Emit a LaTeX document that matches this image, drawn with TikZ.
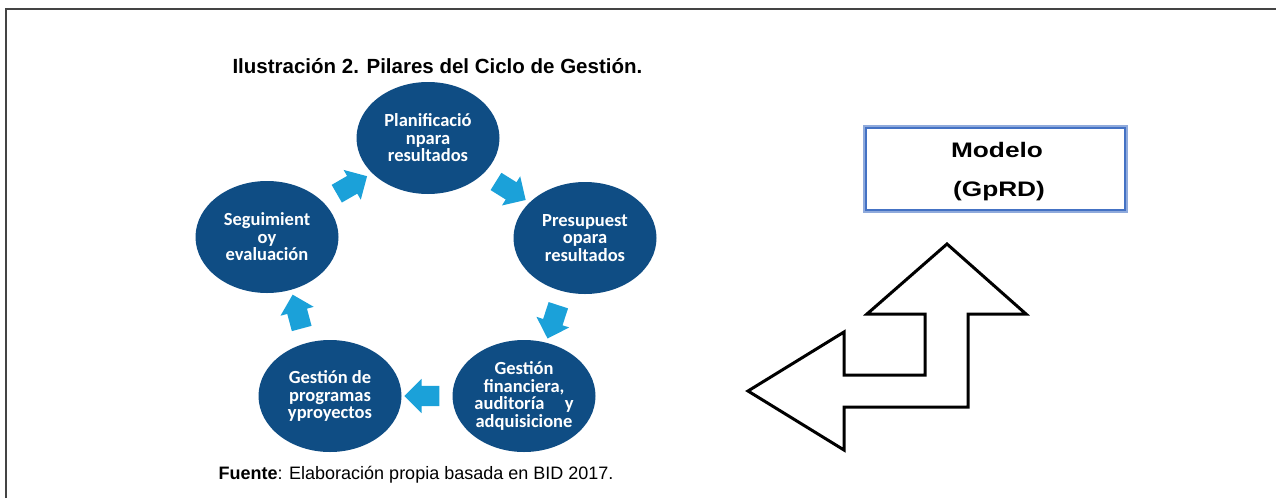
\documentclass[tikz,border=0pt]{standalone}
\usepackage{fontspec}
\usepackage{graphicx}
\setmainfont{Liberation Sans}
\newfontfamily\calfont{Carlito}
\usetikzlibrary{shapes.geometric,shapes.arrows,calc}
\definecolor{circblue}{HTML}{0F4D84}
\definecolor{arrblue}{HTML}{1BA1D9}
\definecolor{boxouter}{HTML}{8FAADC}
\definecolor{boxinner}{HTML}{4472C4}
\definecolor{framegray}{HTML}{444444}
\begin{document}
\begin{tikzpicture}[x=1pt,y=-1pt,
  pillar/.style={ellipse, fill=circblue, minimum width=143pt, minimum height=112pt,
    inner sep=0pt, text=white, align=center,
    font=\calfont\bfseries\fontsize{18.5}{17.5}\selectfont},
  blockarrow/.style={single arrow, fill=arrblue, draw=none, inner xsep=0pt,
    inner ysep=10pt, single arrow head extend=7pt, single arrow head indent=0pt,
    minimum height=35pt},
  boxtext/.style={font=\bfseries\fontsize{21}{24}\selectfont},
  bigarrow/.style={draw=black, line width=3pt, fill=white, line join=miter}
]
\useasboundingbox (0,0) rectangle (1276,498);
\draw[line width=2pt, draw=framegray] (6,498) -- (6,9) -- (1276,9);

\node[anchor=base west, font=\bfseries\fontsize{20.5}{22}\selectfont] (title) at (229,73)
  {Ilustración 2. Pilares del Ciclo de Gestión.};

\node[pillar] (plan) at (428,138) {Planificació\\npara\\resultados};
\node[pillar] (pres) at (585,238) {Presupuest\\opara\\resultados};
\node[pillar] (fin)  at (524,396) {Gestión\\financiera,\\auditoría\hspace{1.1em}y\\adquisicione};
\node[pillar] (prog) at (330,396) {Gestión de\\programas\\yproyectos};
\node[pillar] (seg)  at (267,237) {Seguimient\\oy\\evaluación};

\node[blockarrow, rotate=30]   (a1) at ($(seg)!0.5!(plan)$) {};
\node[blockarrow, rotate=-32]  (a2) at ($(plan)!0.5!(pres)$) {};
\node[blockarrow, rotate=-108] (a3) at ($(pres)!0.5!(fin)$) {};
\node[blockarrow, rotate=180]  (a4) at ($(fin)!0.5!(prog)$) {};
\node[blockarrow, rotate=105]  (a5) at ($(prog)!0.5!(seg)$) {};

\node[anchor=base west, font=\fontsize{18}{20}\selectfont] (src) at (215,479)
  {\textbf{Fuente}: Elaboración propia basada en BID 2017.};

\node[draw=boxouter, line width=3pt, minimum width=262pt, minimum height=85pt, inner sep=0pt]
  (box) at (995.5,169) {};
\draw[boxinner, line width=1.3pt] ([shift={(3,3)}]box.north west) rectangle ([shift={(-3,-3)}]box.south east);
\node[boxtext] (m1) at (997,150) {\scalebox{1.25}[1]{Modelo}};
\node[boxtext] (m2) at (999,191) {\scalebox{1.25}[1]{(GpRD)}};

\draw[bigarrow] (947,244) -- (1026,314) -- (968,314) -- (968,407) -- (844,407)
  -- (844,450) -- (748,391) -- (844,332) -- (844,375) -- (925,375) -- (925,314)
  -- (867,314) -- cycle;
\end{tikzpicture}
\end{document}
